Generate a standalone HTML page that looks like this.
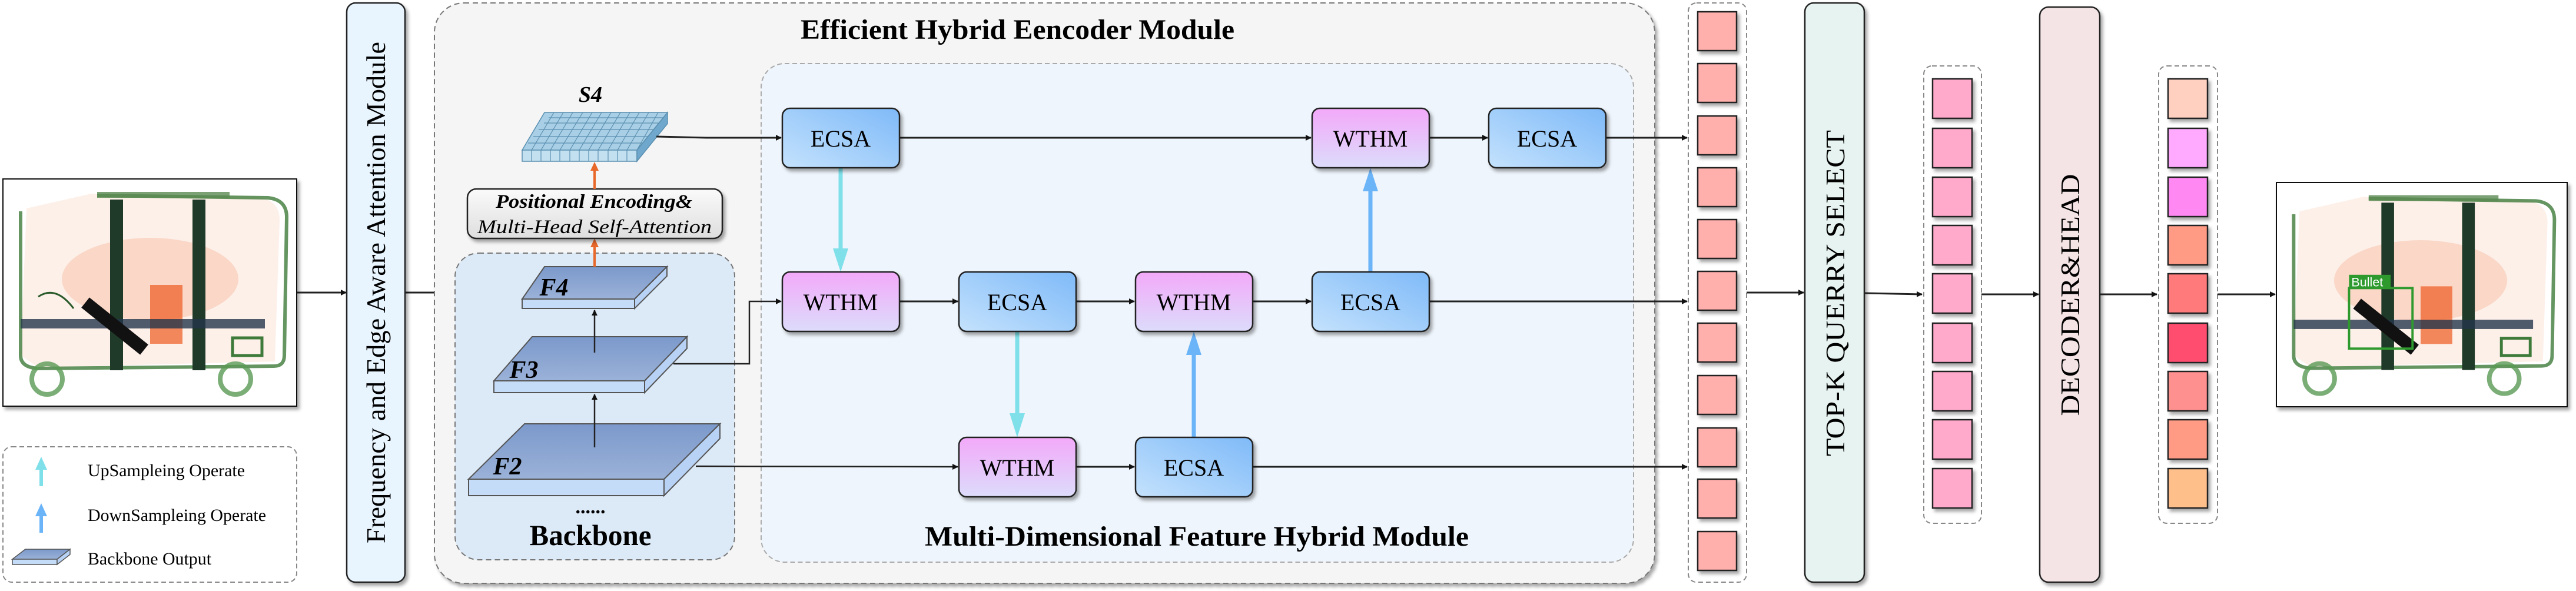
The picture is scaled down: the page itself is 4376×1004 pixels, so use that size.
<!DOCTYPE html>
<html><head><meta charset="utf-8"><style>
html,body{margin:0;padding:0;background:#fff;}
svg{display:block;font-family:"Liberation Serif",serif;}
</style></head><body>
<svg width="4376" height="1004" viewBox="0 0 4376 1004" xmlns="http://www.w3.org/2000/svg">
<defs>
<marker id="ah" markerWidth="10" markerHeight="10" refX="9" refY="5" orient="auto" markerUnits="userSpaceOnUse"><path d="M0,0 L10,5 L0,10 z" fill="#111"/></marker>
<linearGradient id="gE" x1="1" y1="0" x2="0" y2="1"><stop offset="0" stop-color="#7fbaf8"/><stop offset="1" stop-color="#c4e2fd"/></linearGradient>
<linearGradient id="gW" x1="0" y1="0" x2="0" y2="1"><stop offset="0" stop-color="#f3a9f9"/><stop offset="1" stop-color="#dcdcfb"/></linearGradient>
<linearGradient id="gS" x1="0" y1="0" x2="0" y2="1"><stop offset="0" stop-color="#7b99cb"/><stop offset="1" stop-color="#9bb2d8"/></linearGradient>
<linearGradient id="gP" x1="0" y1="0" x2="0" y2="1"><stop offset="0" stop-color="#fafafa"/><stop offset="1" stop-color="#dedede"/></linearGradient>
<filter id="sh" x="-10%" y="-10%" width="130%" height="130%"><feDropShadow dx="4" dy="5" stdDeviation="3" flood-color="#000" flood-opacity="0.35"/></filter>
</defs>

<!-- left image -->
<rect x="5" y="304" width="499" height="386" fill="#fff" stroke="#111" stroke-width="2" filter="url(#sh)"/>
<g transform="translate(5,304)">
<path d="M40,50 L150,25 L420,30 Q470,30 470,70 L462,310 L60,320 L30,300 Z" fill="#f7c2a8" opacity="0.25"/>
<ellipse cx="250" cy="170" rx="150" ry="70" fill="#f5a07a" opacity="0.3"/>
<rect x="250" y="180" width="55" height="100" fill="#ee5a20" opacity="0.7"/>
<path d="M30,55 L30,300 Q30,320 60,322 L460,318 Q478,318 478,300 L482,65 Q482,35 450,32 L160,28" fill="none" stroke="#3e7a3a" stroke-width="6" opacity="0.8"/>
<rect x="160" y="22" width="225" height="10" fill="#5a8a52" opacity="0.8"/>
<rect x="182" y="35" width="22" height="290" fill="#1f3a28"/>
<rect x="322" y="35" width="22" height="290" fill="#1f3a28"/>
<rect x="30" y="238" width="415" height="16" fill="#23344a" opacity="0.8"/>
<path d="M140,210 L240,290" stroke="#111" stroke-width="22"/>
<path d="M60,200 Q90,180 120,220" fill="none" stroke="#2a5a2a" stroke-width="3"/>
<circle cx="75" cy="340" r="26" fill="none" stroke="#5a9a55" stroke-width="8" opacity="0.8"/>
<circle cx="395" cy="340" r="26" fill="none" stroke="#5a9a55" stroke-width="8" opacity="0.8"/>
<rect x="390" y="270" width="50" height="30" fill="none" stroke="#3e7a3a" stroke-width="5"/>
</g>

<!-- legend -->
<rect x="5" y="759" width="499" height="230" rx="15" fill="#fff" stroke="#888" stroke-width="2" stroke-dasharray="8,5"/>
<line x1="70" y1="826" x2="70" y2="795" stroke="#7fe0ea" stroke-width="6"/><polygon points="60,798 80,798 70,776" fill="#7fe0ea"/>
<line x1="70" y1="905" x2="70" y2="874" stroke="#6cb4f8" stroke-width="6"/><polygon points="60,877 80,877 70,855" fill="#6cb4f8"/>
<polygon points="21,950 97,950 119,933 43,933" fill="url(#gS)" stroke="#555" stroke-width="1.5"/>
<rect x="21" y="950" width="76" height="9" fill="#c5dcf8" stroke="#555" stroke-width="1.5"/>
<polygon points="97,950 119,933 119,942 97,959" fill="#b8d2f5" stroke="#555" stroke-width="1.5"/>
<text x="149" y="809" font-size="30" textLength="267" lengthAdjust="spacingAndGlyphs">UpSampleing Operate</text>
<text x="149" y="885" font-size="30" textLength="303" lengthAdjust="spacingAndGlyphs">DownSampleing Operate</text>
<text x="149" y="959" font-size="30" textLength="210" lengthAdjust="spacingAndGlyphs">Backbone Output</text>

<line x1="504" y1="497" x2="588" y2="497" stroke="#222" stroke-width="3" marker-end="url(#ah)"/>
<line x1="688" y1="497" x2="772" y2="497" stroke="#222" stroke-width="3" marker-end="url(#ah)"/>

<!-- frequency bar -->
<rect x="589" y="5" width="99" height="984" rx="15" fill="#e8f4fe" stroke="#222" stroke-width="2.5" filter="url(#sh)"/>
<text transform="translate(654,497) rotate(-90)" text-anchor="middle" font-size="46" textLength="852" lengthAdjust="spacingAndGlyphs">Frequency and Edge Aware Attention Module</text>

<!-- encoder outer -->
<rect x="738" y="5" width="2073" height="986" rx="50" fill="#f5f5f5" stroke="#777" stroke-width="2" stroke-dasharray="9,6" filter="url(#sh)"/>
<text x="1360" y="66" font-size="48" font-weight="bold" textLength="737" lengthAdjust="spacingAndGlyphs">Efficient Hybrid Eencoder Module</text>

<!-- backbone -->
<rect x="773" y="430" width="475" height="521" rx="40" fill="#dce9f7" stroke="#777" stroke-width="2" stroke-dasharray="9,6"/>
<text x="1003" y="872" text-anchor="middle" font-size="34" font-weight="bold">......</text>
<text x="1003" y="926" text-anchor="middle" font-size="50" font-weight="bold" textLength="207" lengthAdjust="spacingAndGlyphs">Backbone</text>
<polygon points="796,814 1128,814 1223,720 891,720" fill="url(#gS)" stroke="#555" stroke-width="2"/>
<rect x="796" y="814" width="332" height="28" fill="#c5dcf8" stroke="#555" stroke-width="2"/>
<polygon points="1128,814 1223,720 1223,745 1128,842" fill="#b8d2f5" stroke="#555" stroke-width="2"/>
<text x="862" y="806" text-anchor="middle" font-size="42" font-weight="bold" font-style="italic">F2</text>
<polygon points="839,647 1095,647 1167,572 904,572" fill="url(#gS)" stroke="#555" stroke-width="2"/>
<rect x="839" y="647" width="256" height="20" fill="#c5dcf8" stroke="#555" stroke-width="2"/>
<polygon points="1095,647 1167,572 1167,592 1095,667" fill="#b8d2f5" stroke="#555" stroke-width="2"/>
<text x="890" y="642" text-anchor="middle" font-size="42" font-weight="bold" font-style="italic">F3</text>
<polygon points="887,508 1078,508 1133,453 925,453" fill="url(#gS)" stroke="#555" stroke-width="2"/>
<rect x="887" y="508" width="191" height="16" fill="#c5dcf8" stroke="#555" stroke-width="2"/>
<polygon points="1078,508 1133,453 1133,469 1078,524" fill="#b8d2f5" stroke="#555" stroke-width="2"/>
<text x="941" y="502" text-anchor="middle" font-size="42" font-weight="bold" font-style="italic">F4</text>
<line x1="1010" y1="760" x2="1010" y2="670" stroke="#222" stroke-width="2.5" marker-end="url(#ah)"/>
<line x1="1010" y1="599" x2="1010" y2="527" stroke="#222" stroke-width="2.5" marker-end="url(#ah)"/>

<line x1="1010" y1="453" x2="1010" y2="418" stroke="#e8672a" stroke-width="4"/><polygon points="1003,420 1017,420 1010,405" fill="#e8672a"/>
<rect x="794" y="321" width="433" height="84" rx="15" fill="url(#gP)" stroke="#222" stroke-width="2.5" filter="url(#sh)"/>
<text x="842" y="353" font-size="33" font-weight="bold" font-style="italic" textLength="334" lengthAdjust="spacingAndGlyphs">Positional Encoding&amp;</text>
<text x="811" y="396" font-size="33" font-style="italic" textLength="398" lengthAdjust="spacingAndGlyphs">Multi-Head Self-Attention</text>
<line x1="1010" y1="321" x2="1010" y2="288" stroke="#e8672a" stroke-width="4"/><polygon points="1003,290 1017,290 1010,275" fill="#e8672a"/>

<!-- S4 cube -->
<polygon points="887,255 1082,255 1134,191 925,191" fill="#a9cfe6" stroke="#5a8fb0" stroke-width="1.5"/>
<g stroke="#5a8fb0" stroke-width="1.2">
<line x1="897" y1="243" x2="1092" y2="243"/><line x1="906" y1="232" x2="1101" y2="232"/><line x1="915" y1="220" x2="1110" y2="220"/><line x1="924" y1="209" x2="1119" y2="209"/><line x1="932" y1="200" x2="1127" y2="200"/>
<line x1="903" y1="255" x2="941" y2="191"/><line x1="919" y1="255" x2="957" y2="191"/><line x1="935" y1="255" x2="973" y2="191"/><line x1="951" y1="255" x2="990" y2="191"/><line x1="968" y1="255" x2="1006" y2="191"/><line x1="984" y1="255" x2="1022" y2="191"/><line x1="1000" y1="255" x2="1038" y2="191"/><line x1="1016" y1="255" x2="1054" y2="191"/><line x1="1033" y1="255" x2="1070" y2="191"/><line x1="1049" y1="255" x2="1086" y2="191"/><line x1="1065" y1="255" x2="1102" y2="191"/><line x1="1082" y1="255" x2="1118" y2="191"/>
</g>
<rect x="887" y="255" width="195" height="19" fill="#c2e0f0" stroke="#5a8fb0" stroke-width="1.5"/>
<g stroke="#5a8fb0" stroke-width="1.2"><line x1="903" y1="255" x2="903" y2="274"/><line x1="919" y1="255" x2="919" y2="274"/><line x1="935" y1="255" x2="935" y2="274"/><line x1="951" y1="255" x2="951" y2="274"/><line x1="968" y1="255" x2="968" y2="274"/><line x1="984" y1="255" x2="984" y2="274"/><line x1="1000" y1="255" x2="1000" y2="274"/><line x1="1016" y1="255" x2="1016" y2="274"/><line x1="1033" y1="255" x2="1033" y2="274"/><line x1="1049" y1="255" x2="1049" y2="274"/><line x1="1065" y1="255" x2="1065" y2="274"/></g>
<polygon points="1082,255 1134,191 1134,210 1082,274" fill="#6fa8cc" stroke="#5a8fb0" stroke-width="1.5"/>
<text x="1003" y="173" text-anchor="middle" font-size="38" font-weight="bold" font-style="italic">S4</text>

<!-- MDFH inner -->
<rect x="1293" y="108" width="1482" height="847" rx="40" fill="#eef5fc" stroke="#aaa" stroke-width="2" stroke-dasharray="8,5"/>
<text x="1571" y="927" font-size="48" font-weight="bold" textLength="924" lengthAdjust="spacingAndGlyphs">Multi-Dimensional Feature Hybrid Module</text>

<g stroke="#222" stroke-width="3" fill="none">
<polyline points="1115,232 1200,234 1327,234" marker-end="url(#ah)"/>
<line x1="1528" y1="234" x2="2227" y2="234" marker-end="url(#ah)"/>
<line x1="2428" y1="234" x2="2527" y2="234" marker-end="url(#ah)"/>
<line x1="2728" y1="234" x2="2866" y2="234" marker-end="url(#ah)"/>
<polyline points="1144,618 1273,618 1273,512 1327,512" stroke-width="2.5" marker-end="url(#ah)"/>
<line x1="1528" y1="512" x2="1627" y2="512" marker-end="url(#ah)"/>
<line x1="1828" y1="512" x2="1927" y2="512" marker-end="url(#ah)"/>
<line x1="2128" y1="512" x2="2227" y2="512" marker-end="url(#ah)"/>
<line x1="2428" y1="512" x2="2866" y2="512" marker-end="url(#ah)"/>
<line x1="1182" y1="792" x2="1627" y2="793" stroke-width="2.5" marker-end="url(#ah)"/>
<line x1="1828" y1="793" x2="1927" y2="793" marker-end="url(#ah)"/>
<line x1="2128" y1="793" x2="2866" y2="793" marker-end="url(#ah)"/>
</g>

<line x1="1428" y1="285" x2="1428" y2="425" stroke="#7fe0ea" stroke-width="7"/><polygon points="1415,422 1441,422 1428,462" fill="#7fe0ea"/>
<line x1="1728" y1="563" x2="1728" y2="705" stroke="#7fe0ea" stroke-width="7"/><polygon points="1715,702 1741,702 1728,743" fill="#7fe0ea"/>
<line x1="2028" y1="743" x2="2028" y2="600" stroke="#6cb4f8" stroke-width="7"/><polygon points="2015,603 2041,603 2028,563" fill="#6cb4f8"/>
<line x1="2328" y1="462" x2="2328" y2="322" stroke="#6cb4f8" stroke-width="7"/><polygon points="2315,325 2341,325 2328,285" fill="#6cb4f8"/>

<g stroke="#222" stroke-width="2.5" filter="url(#sh)">
<rect x="1329" y="184" width="199" height="101" rx="13" fill="url(#gE)"/>
<rect x="2229" y="184" width="199" height="101" rx="13" fill="url(#gW)"/>
<rect x="2529" y="184" width="199" height="101" rx="13" fill="url(#gE)"/>
<rect x="1329" y="462" width="199" height="101" rx="13" fill="url(#gW)"/>
<rect x="1629" y="462" width="199" height="101" rx="13" fill="url(#gE)"/>
<rect x="1929" y="462" width="199" height="101" rx="13" fill="url(#gW)"/>
<rect x="2229" y="462" width="199" height="101" rx="13" fill="url(#gE)"/>
<rect x="1629" y="743" width="199" height="101" rx="13" fill="url(#gW)"/>
<rect x="1929" y="743" width="199" height="101" rx="13" fill="url(#gE)"/>
</g>
<g font-size="40" text-anchor="middle">
<text x="1428" y="249">ECSA</text><text x="2328" y="249">WTHM</text><text x="2628" y="249">ECSA</text>
<text x="1428" y="527">WTHM</text><text x="1728" y="527">ECSA</text><text x="2028" y="527">WTHM</text><text x="2328" y="527">ECSA</text>
<text x="1728" y="808">WTHM</text><text x="2028" y="808">ECSA</text>
</g>

<rect x="2868" y="5" width="99" height="984" rx="14" fill="#fff" stroke="#888" stroke-width="2" stroke-dasharray="8,5"/>
<g fill="#ffb0ac" stroke="#222" stroke-width="2.5" filter="url(#sh)">
<rect x="2884" y="20" width="66" height="66"/><rect x="2884" y="108" width="66" height="66"/><rect x="2884" y="197" width="66" height="66"/><rect x="2884" y="285" width="66" height="66"/><rect x="2884" y="373" width="66" height="66"/><rect x="2884" y="461" width="66" height="66"/><rect x="2884" y="549" width="66" height="66"/><rect x="2884" y="638" width="66" height="66"/><rect x="2884" y="727" width="66" height="66"/><rect x="2884" y="814" width="66" height="66"/><rect x="2884" y="903" width="66" height="66"/>
</g>
<line x1="2967" y1="497" x2="3064" y2="497" stroke="#222" stroke-width="3" marker-end="url(#ah)"/>

<rect x="3066" y="5" width="101" height="984" rx="15" fill="#e6f3f0" stroke="#222" stroke-width="2.5" filter="url(#sh)"/>
<text transform="translate(3133,498) rotate(-90)" text-anchor="middle" font-size="46" textLength="554" lengthAdjust="spacingAndGlyphs">TOP-K QUERRY SELECT</text>
<line x1="3167" y1="498" x2="3265" y2="500" stroke="#222" stroke-width="3" marker-end="url(#ah)"/>

<rect x="3268" y="112" width="98" height="777" rx="14" fill="#fff" stroke="#888" stroke-width="2" stroke-dasharray="8,5"/>
<g fill="#ffaacb" stroke="#222" stroke-width="2.5" filter="url(#sh)">
<rect x="3283" y="134" width="67" height="67"/><rect x="3283" y="218" width="67" height="67"/><rect x="3283" y="301" width="67" height="67"/><rect x="3283" y="383" width="67" height="67"/><rect x="3283" y="465" width="67" height="67"/><rect x="3283" y="549" width="67" height="67"/><rect x="3283" y="631" width="67" height="67"/><rect x="3283" y="713" width="67" height="67"/><rect x="3283" y="796" width="67" height="67"/>
</g>
<line x1="3366" y1="500" x2="3463" y2="500" stroke="#222" stroke-width="3" marker-end="url(#ah)"/>

<rect x="3465" y="12" width="102" height="977" rx="15" fill="#f5e4e6" stroke="#222" stroke-width="2.5" filter="url(#sh)"/>
<text transform="translate(3532,501) rotate(-90)" text-anchor="middle" font-size="46" textLength="411" lengthAdjust="spacingAndGlyphs">DECODER&amp;HEAD</text>
<line x1="3567" y1="500" x2="3664" y2="500" stroke="#222" stroke-width="3" marker-end="url(#ah)"/>

<rect x="3667" y="112" width="100" height="777" rx="14" fill="#fff" stroke="#888" stroke-width="2" stroke-dasharray="8,5"/>
<g stroke="#222" stroke-width="2.5" filter="url(#sh)">
<rect x="3683" y="134" width="67" height="67" fill="#ffd0c0"/><rect x="3683" y="218" width="67" height="67" fill="#ffaaff"/><rect x="3683" y="301" width="67" height="67" fill="#ff88f2"/><rect x="3683" y="383" width="67" height="67" fill="#ff9a85"/><rect x="3683" y="465" width="67" height="67" fill="#ff7a7a"/><rect x="3683" y="549" width="67" height="67" fill="#ff4d70"/><rect x="3683" y="631" width="67" height="67" fill="#ff9090"/><rect x="3683" y="713" width="67" height="67" fill="#ff9a85"/><rect x="3683" y="796" width="67" height="67" fill="#ffbf8a"/>
</g>
<line x1="3767" y1="500" x2="3865" y2="500" stroke="#222" stroke-width="3" marker-end="url(#ah)"/>

<rect x="3867" y="310" width="494" height="381" fill="#fff" stroke="#111" stroke-width="2" filter="url(#sh)"/>
<g transform="translate(3867,310) scale(0.98,0.98)">
<path d="M40,50 L150,25 L420,30 Q470,30 470,70 L462,310 L60,320 L30,300 Z" fill="#f7c2a8" opacity="0.25"/>
<ellipse cx="250" cy="170" rx="150" ry="70" fill="#f5a07a" opacity="0.3"/>
<rect x="250" y="180" width="55" height="100" fill="#ee5a20" opacity="0.7"/>
<path d="M30,55 L30,300 Q30,320 60,322 L460,318 Q478,318 478,300 L482,65 Q482,35 450,32 L160,28" fill="none" stroke="#3e7a3a" stroke-width="6" opacity="0.8"/>
<rect x="160" y="22" width="225" height="10" fill="#5a8a52" opacity="0.8"/>
<rect x="182" y="35" width="22" height="290" fill="#1f3a28"/>
<rect x="322" y="35" width="22" height="290" fill="#1f3a28"/>
<rect x="30" y="238" width="415" height="16" fill="#23344a" opacity="0.8"/>
<path d="M140,210 L240,290" stroke="#111" stroke-width="22"/>
<circle cx="75" cy="340" r="26" fill="none" stroke="#5a9a55" stroke-width="8" opacity="0.8"/>
<circle cx="395" cy="340" r="26" fill="none" stroke="#5a9a55" stroke-width="8" opacity="0.8"/>
<rect x="390" y="270" width="50" height="30" fill="none" stroke="#3e7a3a" stroke-width="5"/>
<rect x="126" y="183" width="110" height="105" fill="none" stroke="#2e9a2e" stroke-width="4"/>
<rect x="126" y="160" width="72" height="24" fill="#2e9a2e"/>
<text x="130" y="180" font-family="Liberation Sans, sans-serif" font-size="22" fill="#fff">Bullet</text>
</g>
</svg>
</body></html>
